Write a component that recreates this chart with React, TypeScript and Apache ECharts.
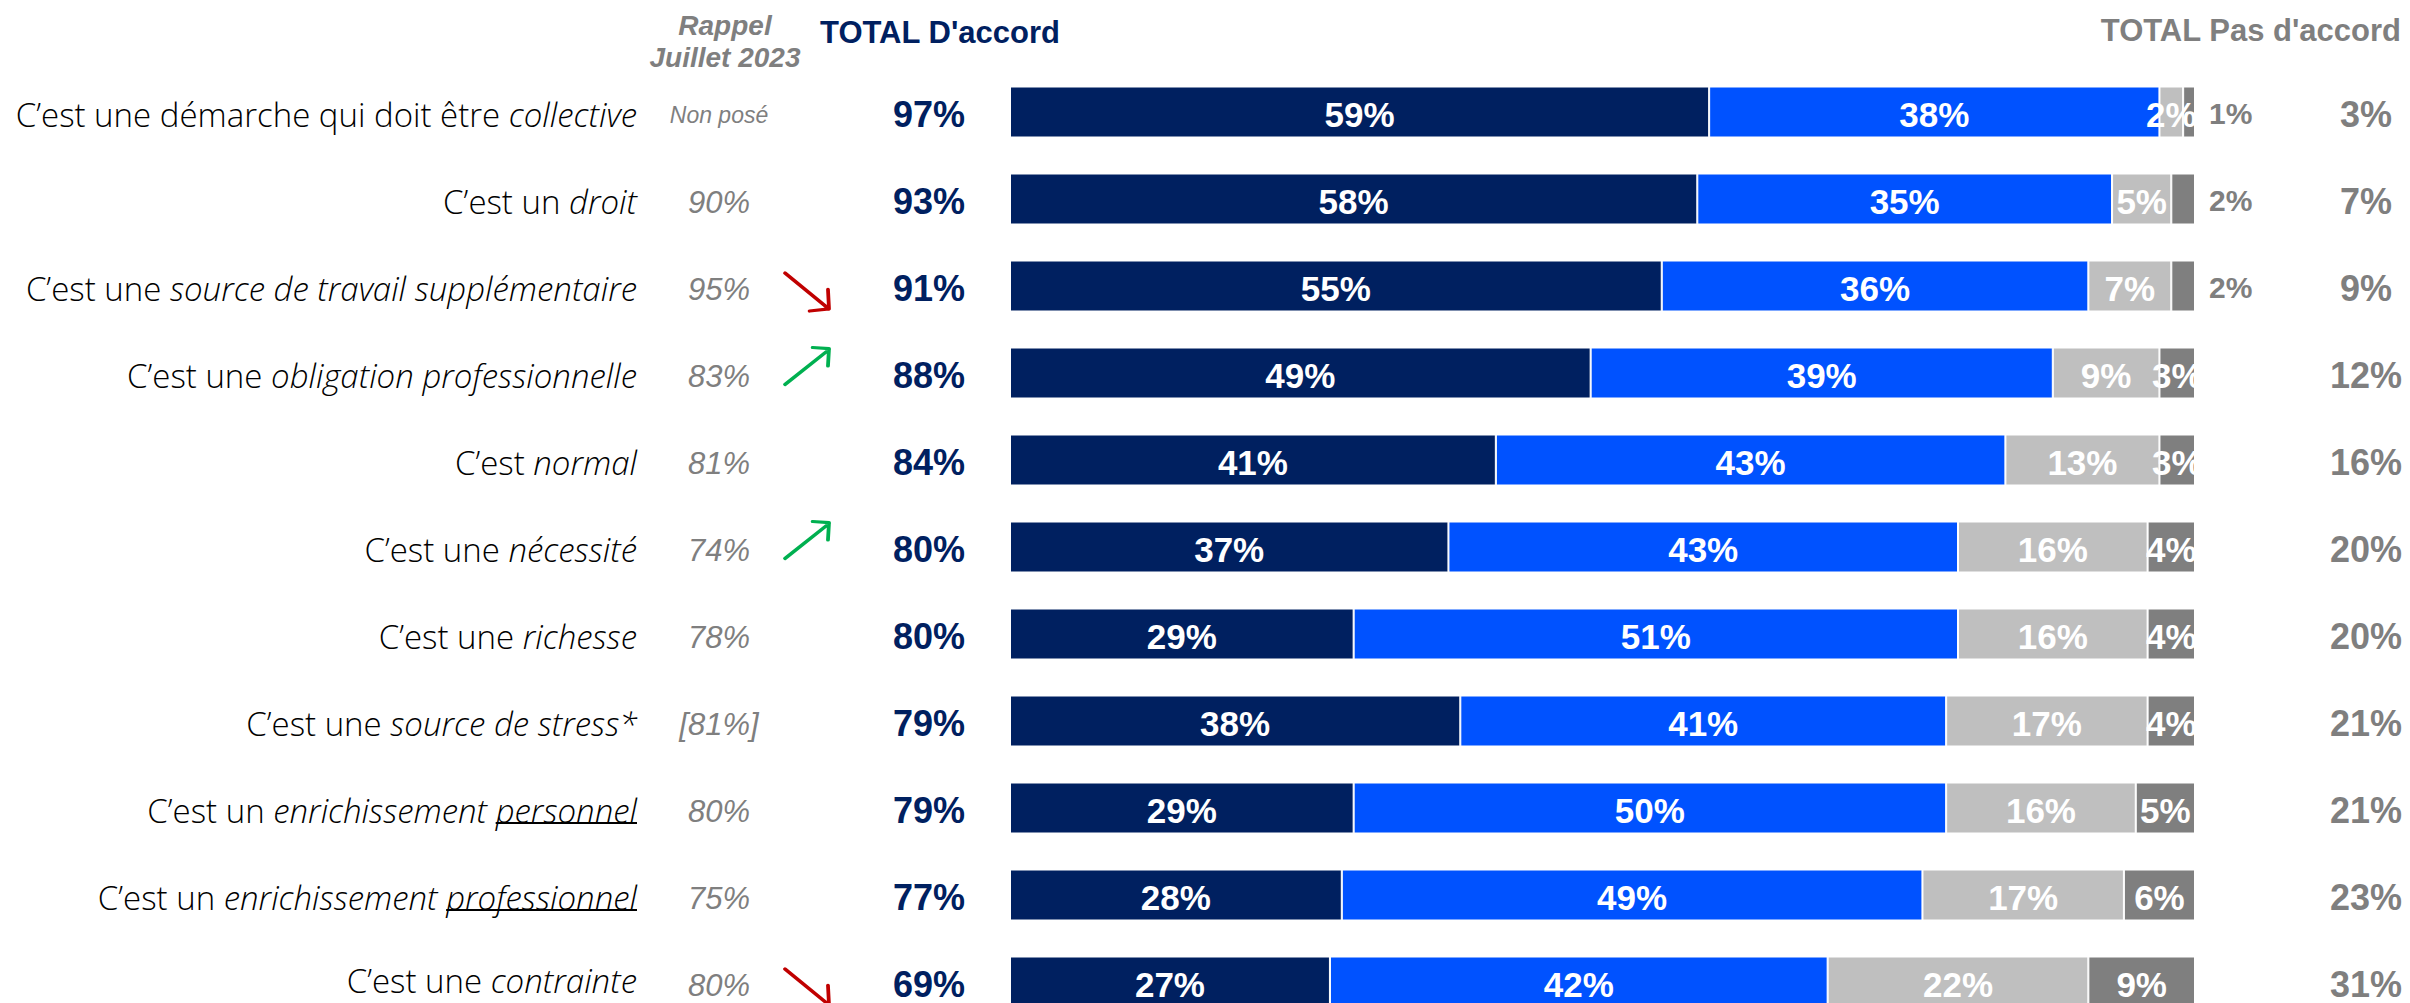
import React, { useEffect, useRef } from "react";
import * as echarts from "echarts";

const categories = [
  "C’est une démarche qui doit être collective",
  "C’est un droit",
  "C’est une source de travail supplémentaire",
  "C’est une obligation professionnelle",
  "C’est normal",
  "C’est une nécessité",
  "C’est une richesse",
  "C’est une source de stress*",
  "C’est un enrichissement personnel",
  "C’est un enrichissement professionnel",
  "C’est une contrainte",
];
const labelPlain = [
  "C’est une démarche qui doit être ",
  "C’est un ",
  "C’est une ",
  "C’est une ",
  "C’est ",
  "C’est une ",
  "C’est une ",
  "C’est une ",
  "C’est un ",
  "C’est un ",
  "C’est une ",
];
const labelItalic = [
  "collective",
  "droit",
  "source de travail supplémentaire",
  "obligation professionnelle",
  "normal",
  "nécessité",
  "richesse",
  "source de stress*",
  "enrichissement ",
  "enrichissement ",
  "contrainte",
];
const labelUnderlined = ["", "", "", "", "", "", "", "", "personnel", "professionnel", ""];

const toutAFait = [59, 58, 55, 49, 41, 37, 29, 38, 29, 28, 27];
const plutot = [38, 35, 36, 39, 43, 43, 51, 41, 50, 49, 42];
const plutotPas = [2, 5, 7, 9, 13, 16, 16, 17, 16, 17, 22];
const pasDuTout = [1, 2, 2, 3, 3, 4, 4, 4, 5, 6, 9];
const rappel = ["Non posé", "90%", "95%", "83%", "81%", "74%", "78%", "[81%]", "80%", "75%", "80%"];
const trend = ["", "", "down", "up", "", "up", "", "", "", "", "down"];

const ARIAL = '"Liberation Sans", Arial, sans-serif';
const GOTHIC = '"Open Sans", "DejaVu Sans", sans-serif';
const LABEL_SIZE = 33;
const LABEL_WEIGHT = 300;
const NAVY = "#002060";
const BLUE = "#0052FF";
const LGRAY = "#BFBFBF";
const DGRAY = "#7F7F7F";

// first and last category centres (boundaryGap false)
const GRID_TOP = 112;
const GRID_H = 870;
const BAR_LEFT = 1010;
const BAR_W = 1185;
const LABEL_RIGHT = 637;

export default function App() {
  const ref = useRef<HTMLDivElement>(null);
  useEffect(() => {
    document.body.style.margin = "0";
    const chart = echarts.init(ref.current!, null, { renderer: "svg" });

    const barLabel = {
      show: true,
      position: "inside",
      offset: [0, 2],
      formatter: "{c}%",
      color: "#fff",
      fontFamily: ARIAL,
      fontWeight: "bold",
      fontSize: 35,
    };
    const seg = (name: string, data: any[], color: string) => ({
      name,
      type: "bar",
      stack: "s",
      barWidth: 51,
      xAxisIndex: 0,
      yAxisIndex: 0,
      data,
      silent: true,
      itemStyle: { color, borderColor: "#fff", borderWidth: 1 },
      label: barLabel,
    });

    const headers = [
      {
        type: "text",
        id: "h1",
        x: 725,
        y: 41,
        style: {
          text: "Rappel\nJuillet 2023",
          fontFamily: ARIAL,
          fontWeight: "bold",
          fontStyle: "italic",
          fontSize: 28,
          lineHeight: 32,
          fill: DGRAY,
          align: "center",
          verticalAlign: "middle",
        },
      },
      {
        type: "text",
        id: "h2",
        x: 820,
        y: 32,
        style: {
          text: "TOTAL D'accord",
          fontFamily: ARIAL,
          fontWeight: "bold",
          fontSize: 31,
          fill: NAVY,
          align: "left",
          verticalAlign: "middle",
        },
      },
      {
        type: "text",
        id: "h3",
        x: 2401,
        y: 30,
        style: {
          text: "TOTAL Pas d'accord",
          fontFamily: ARIAL,
          fontWeight: "bold",
          fontSize: 31,
          fill: DGRAY,
          align: "right",
          verticalAlign: "middle",
        },
      },
    ];

    const arrowStyle = (color: string) => ({
      color: "transparent",
      borderColor: color,
      borderWidth: 3.5,
      borderCap: "round",
      borderJoin: "round",
      opacity: 1,
    });
    const textScatter = (x: number, formatter: (i: number) => string, label: any, data?: any[]) => ({
      type: "scatter",
      xAxisIndex: 1,
      yAxisIndex: 1,
      symbolSize: 0,
      silent: true,
      itemStyle: { opacity: 1 },
      data: data || categories.map((_c, i) => [x, i]),
      label: {
        show: true,
        position: "inside",
        formatter: (p: any) => formatter(p.dataIndex),
        ...label,
      },
    });

    const catAxisBase = {
      type: "category",
      data: categories,
      inverse: true,
      boundaryGap: false,
    };

    const richBase = {
      fontFamily: GOTHIC,
      fontSize: LABEL_SIZE,
      fontWeight: LABEL_WEIGHT,
      color: "#000",
      padding: [5, 0, 0, 0],
    };
    // last row sits at the page's bottom edge: keep its text box inside
    const richLast = { ...richBase, padding: [0, 0, 3, 0] };

    const option: any = {
      animation: false,
      backgroundColor: "#fff",
      grid: [
        { left: BAR_LEFT, width: BAR_W, top: GRID_TOP, height: GRID_H, outerBoundsMode: "none" },
        { left: 0, width: 2410, top: GRID_TOP, height: GRID_H, outerBoundsMode: "none" },
      ],
      xAxis: [
        { type: "value", gridIndex: 0, min: 0, max: 100, show: false },
        { type: "value", gridIndex: 1, min: 0, max: 2410, show: false },
      ],
      yAxis: [
        {
          ...catAxisBase,
          gridIndex: 0,
          axisLine: { show: false },
          axisTick: { show: false },
          splitLine: { show: false },
          axisLabel: {
            margin: BAR_LEFT - LABEL_RIGHT,
            align: "right",
            fontFamily: GOTHIC,
            fontSize: LABEL_SIZE,
            fontWeight: LABEL_WEIGHT,
            color: "#000",
            formatter: (_v: string, i: number) => {
              const last = i === categories.length - 1;
              const n = last ? "nl" : "n";
              const it = last ? "il" : "i";
              let s = "{" + n + "|" + labelPlain[i] + "}{" + it + "|" + labelItalic[i] + "}";
              if (labelUnderlined[i]) s += "{" + it + "|" + labelUnderlined[i] + "}";
              return s;
            },
            rich: {
              n: { ...richBase },
              i: { ...richBase, fontStyle: "italic" },
              nl: { ...richLast },
              il: { ...richLast, fontStyle: "italic" },
            },
          },
        },
        { ...catAxisBase, gridIndex: 1, show: false },
      ],
      series: [
        seg("Tout à fait d'accord", toutAFait, NAVY),
        seg("Plutôt d'accord", plutot, BLUE),
        seg("Plutôt pas d'accord", plutotPas, LGRAY),
        seg(
          "Pas du tout d'accord",
          pasDuTout.map((v) =>
            v < 3
              ? {
                  value: v,
                  label: { position: "right", distance: 14, color: DGRAY, fontSize: 30, offset: [0, 1] },
                }
              : v
          ),
          DGRAY
        ),
        textScatter(
          719,
          (i) => rappel[i],
          { fontFamily: ARIAL, fontStyle: "italic", fontSize: 31, color: DGRAY, offset: [0, 3] },
          rappel.map((r, i) => ({
            value: [719, i],
            label: r === "Non posé" ? { fontSize: 23 } : undefined,
          }))
        ),
        {
          type: "scatter",
          xAxisIndex: 1,
          yAxisIndex: 1,
          silent: true,
          symbol: "path://M0,0L43,35M24,37L43,35L42,16",
          symbolSize: [44, 38],
          symbolOffset: [0, 6],
          itemStyle: arrowStyle("#C00000"),
          data: trend.map((t, i) => (t === "down" ? [807, i] : null)).filter((d) => d),
        },
        {
          type: "scatter",
          xAxisIndex: 1,
          yAxisIndex: 1,
          silent: true,
          symbol: "path://M0,36L43,2M27,0L43,1L42,18",
          symbolSize: [44, 37],
          symbolOffset: [0, -7],
          itemStyle: arrowStyle("#00B050"),
          data: trend.map((t, i) => (t === "up" ? [807, i] : null)).filter((d) => d),
        },
        textScatter(929, (i) => toutAFait[i] + plutot[i] + "%", {
          fontFamily: ARIAL,
          fontWeight: "bold",
          fontSize: 36,
          color: NAVY,
          offset: [0, 2],
        }),
        textScatter(2366, (i) => plutotPas[i] + pasDuTout[i] + "%", {
          fontFamily: ARIAL,
          fontWeight: "bold",
          fontSize: 36,
          color: DGRAY,
          offset: [0, 2],
        }),
      ],
      graphic: headers,
    };
    chart.setOption(option);

    // underline decoration for underlined words (right-aligned last word)
    const ctx = document.createElement("canvas").getContext("2d")!;
    ctx.font = `italic ${LABEL_WEIGHT} ${LABEL_SIZE}px ${GOTHIC}`;
    const lines: any[] = [];
    labelUnderlined.forEach((w, i) => {
      if (!w) return;
      const y = chart.convertToPixel({ yAxisIndex: 0 }, categories[i]) as number;
      const width = ctx.measureText(w).width;
      lines.push({
        type: "line",
        id: "ul" + i,
        shape: { x1: LABEL_RIGHT - width, y1: y + 15, x2: LABEL_RIGHT, y2: y + 15 },
        style: { stroke: "#000", lineWidth: 2 },
      });
    });
    chart.setOption({ graphic: [...headers, ...lines] });

    return () => chart.dispose();
  }, []);
  return <div ref={ref} style={{ width: 2410, height: 1003 }} />;
}
